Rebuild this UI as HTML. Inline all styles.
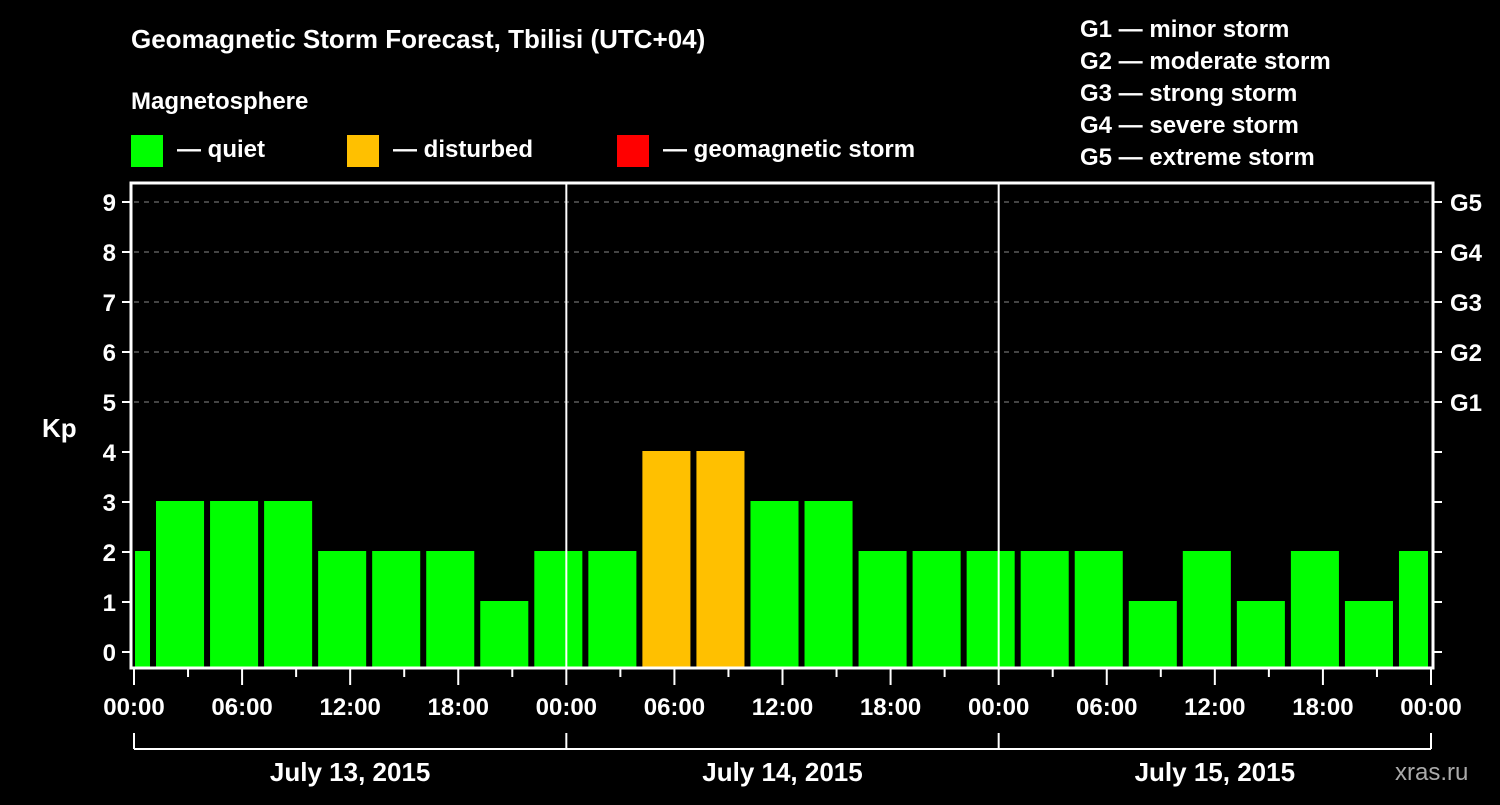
<!DOCTYPE html>
<html><head><meta charset="utf-8"><style>
html,body{margin:0;padding:0;background:#000;}
svg text{font-family:"Liberation Sans",Arial,sans-serif;font-weight:bold;fill:#fff;}
</style></head><body>
<svg id="chart" width="1500" height="800" viewBox="0 0 1500 800" xmlns="http://www.w3.org/2000/svg">
<rect width="1500" height="800" fill="#000"/>
<text x="131" y="48" font-size="26">Geomagnetic Storm Forecast, Tbilisi (UTC+04)</text>
<text x="131" y="109" font-size="24">Magnetosphere</text>
<rect x="131" y="135" width="32" height="32" fill="#00ff00"/>
<text x="177" y="157" font-size="24">— quiet</text>
<rect x="347" y="135" width="32" height="32" fill="#ffc000"/>
<text x="393" y="157" font-size="24">— disturbed</text>
<rect x="617" y="135" width="32" height="32" fill="#ff0000"/>
<text x="663" y="157" font-size="24">— geomagnetic storm</text>
<g font-size="24">
<text x="1080" y="37">G1 — minor storm</text>
<text x="1080" y="69">G2 — moderate storm</text>
<text x="1080" y="101">G3 — strong storm</text>
<text x="1080" y="133">G4 — severe storm</text>
<text x="1080" y="165">G5 — extreme storm</text>
</g>
<text x="42" y="437" font-size="26">Kp</text>
<text x="1395" y="780" font-size="24" style="fill:#aaa;font-weight:normal">xras.ru</text>
<g id="marks"></g>
</svg>
<script>
const kpValues=[2,3,3,3,2,2,2,1,2,2,4,4,3,3,2,2,2,2,2,1,2,1,2,1,2];
const firstIntervalHour=-2;
const yTicks=[0,1,2,3,4,5,6,7,8,9];
const gLabels=["G1","G2","G3","G4","G5"];
const hourLabels=["00:00","06:00","12:00","18:00","00:00","06:00","12:00","18:00","00:00","06:00","12:00","18:00","00:00"];
const dateLabels=["July 13, 2015","July 14, 2015","July 15, 2015"];

const NS="http://www.w3.org/2000/svg";
const g=document.getElementById('marks');
const L=134,R=1431,T=183,B=668;
const xs=h=>L+(R-L)*h/72;
const ys=k=>652-50*k;
function mk(tag,a){const e=document.createElementNS(NS,tag);for(const k in a)e.setAttribute(k,a[k]);g.appendChild(e);return e;}
// gridlines
yTicks.forEach(k=>{
 if(k>=5){const l=mk('line',{x1:L,x2:R,y1:ys(k),y2:ys(k),stroke:'#888','stroke-width':1,'stroke-dasharray':'5,5'});
 
 }
});
// bars
kpValues.forEach((v,i)=>{
 const a=firstIntervalHour+3*i;
 let x0=xs(a)+4, x1=xs(a+3)-2;
 x0=Math.max(x0,L+1); x1=Math.min(x1,R-3);
 const r=mk('rect',{x:x0,y:ys(v)-1,width:x1-x0,height:B-ys(v)+1,fill:v>=5?'#ff0000':(v>=4?'#ffc000':'#00ff00')});
 
 
});
// day separators
[24,48].forEach(h=>{const l=mk('line',{x1:xs(h),x2:xs(h),y1:T,y2:B,stroke:'#fff','stroke-width':2});
 
 });
// frame
const fr=mk('rect',{x:131,y:183,width:1302,height:485,fill:'none',stroke:'#fff','stroke-width':3});


// y ticks
yTicks.forEach(k=>{
 mk('line',{x1:122,x2:131,y1:ys(k),y2:ys(k),stroke:'#fff','stroke-width':2});
 mk('line',{x1:1433,x2:1442,y1:ys(k),y2:ys(k),stroke:'#fff','stroke-width':2});
 const t=mk('text',{x:116,y:ys(k)+9,'font-size':24,'text-anchor':'end'});
 t.textContent=k;
 
 
});
gLabels.forEach((s,i)=>{
 const t=mk('text',{x:1450,y:ys(5+i)+9,'font-size':24});
 t.textContent=s;
 
 
});
// x ticks
for(let h=0;h<=72;h+=3){
 const major=h%6===0;
 mk('line',{x1:xs(h),x2:xs(h),y1:669,y2:major?685:677,stroke:'#fff','stroke-width':2});
}
hourLabels.forEach((s,i)=>{
 const t=mk('text',{x:xs(6*i),y:715,'font-size':24,'text-anchor':'middle'});
 t.textContent=s;
 
 
});
// date bracket
mk('line',{x1:xs(0),x2:xs(72),y1:749,y2:749,stroke:'#fff','stroke-width':2});
[0,24,48,72].forEach(h=>mk('line',{x1:xs(h),x2:xs(h),y1:733,y2:749,stroke:'#fff','stroke-width':2}));
dateLabels.forEach((s,i)=>{
 const t=mk('text',{x:xs(24*i+12),y:781,'font-size':26,'text-anchor':'middle'});
 t.textContent=s;
 
 
});
</script>
</body></html>
